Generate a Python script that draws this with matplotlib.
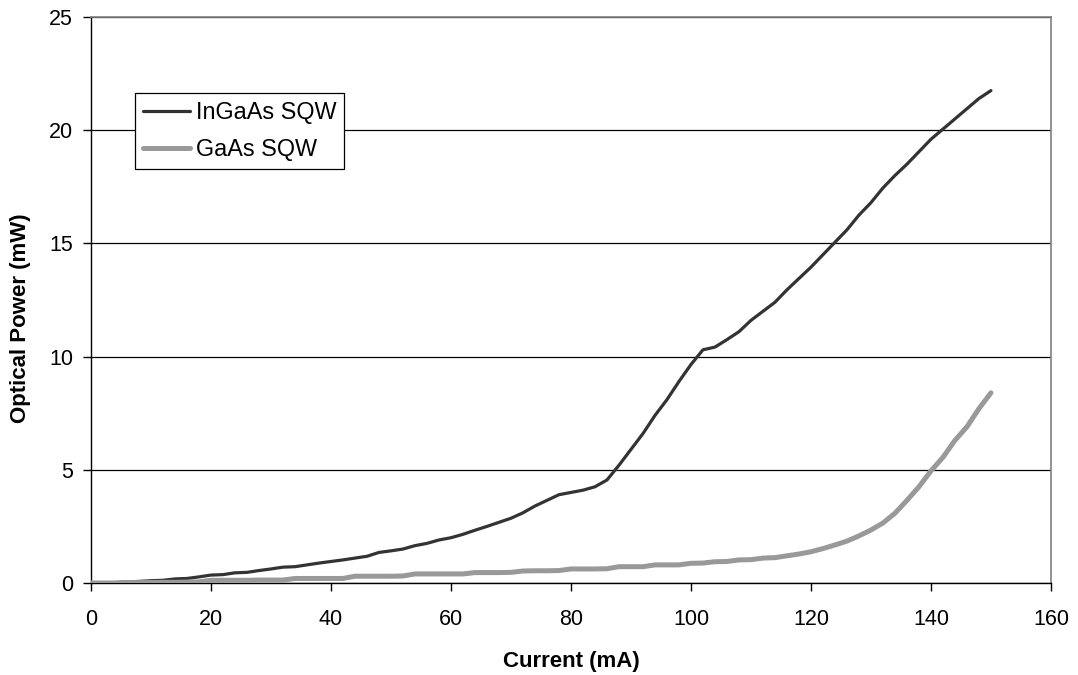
import matplotlib
matplotlib.use("Agg")
import matplotlib.pyplot as plt

plt.rcParams['font.family'] = ['Liberation Sans', 'DejaVu Sans']

# Drive current (mA)
current = [0, 2, 4, 6, 8, 10, 12, 14, 16, 18, 20, 22, 24, 26, 28, 30, 32, 34, 36, 38,
           40, 42, 44, 46, 48, 50, 52, 54, 56, 58, 60, 62, 64, 66, 68, 70, 72, 74, 76, 78,
           80, 82, 84, 86, 88, 90, 92, 94, 96, 98, 100, 102, 104, 106, 108, 110, 112, 114, 116, 118,
           120, 122, 124, 126, 128, 130, 132, 134, 136, 138, 140, 142, 144, 146, 148, 150]

# Optical output power (mW)
ingaas_sqw = [0.0, 0.0, 0.02, 0.05, 0.07, 0.1, 0.12, 0.18, 0.2, 0.27, 0.35, 0.37, 0.45, 0.47, 0.55, 0.62, 0.7, 0.72, 0.8, 0.88,
              0.95, 1.02, 1.1, 1.18, 1.35, 1.42, 1.5, 1.65, 1.75, 1.9, 2.0, 2.15, 2.33, 2.5, 2.68, 2.86, 3.1, 3.4, 3.65, 3.9,
              4.0, 4.1, 4.25, 4.55, 5.2, 5.9, 6.6, 7.4, 8.1, 8.9, 9.65, 10.3, 10.42, 10.75, 11.1, 11.6, 12.0, 12.4, 12.95, 13.45,
              13.95, 14.5, 15.05, 15.6, 16.25, 16.8, 17.45, 18.0, 18.5, 19.05, 19.6, 20.05, 20.5, 20.95, 21.4, 21.75]

gaas_sqw = [0.0, 0.0, 0.0, 0.02, 0.02, 0.02, 0.03, 0.03, 0.04, 0.05, 0.12, 0.12, 0.12, 0.12, 0.13, 0.13, 0.13, 0.2, 0.2, 0.2,
            0.2, 0.2, 0.3, 0.3, 0.3, 0.3, 0.31, 0.4, 0.4, 0.4, 0.4, 0.4, 0.46, 0.46, 0.46, 0.47, 0.53, 0.54, 0.54, 0.55,
            0.62, 0.62, 0.62, 0.63, 0.72, 0.72, 0.72, 0.8, 0.8, 0.8, 0.87, 0.88, 0.94, 0.95, 1.02, 1.03, 1.1, 1.12, 1.2, 1.28,
            1.38, 1.52, 1.68, 1.85, 2.08, 2.34, 2.65, 3.08, 3.65, 4.25, 4.95, 5.55, 6.3, 6.9, 7.7, 8.4]

series_labels = ['InGaAs SQW', 'GaAs SQW']
x_ticks = [0, 20, 40, 60, 80, 100, 120, 140, 160]
y_ticks = [0, 5, 10, 15, 20, 25]

fig = plt.figure(figsize=(10.78, 6.75), dpi=100)
ax = fig.add_axes([0.0844, 0.1363, 0.8905, 0.8385])

ax.plot(current, ingaas_sqw, color='#333333', lw=2.3, solid_capstyle='round',
        solid_joinstyle='round', label=series_labels[0], zorder=3)
ax.plot(current, gaas_sqw, color='#999999', lw=3.6, solid_capstyle='round',
        solid_joinstyle='round', label=series_labels[1], zorder=3)

ax.set_xlim(0, 160)
ax.set_ylim(0, 25)
ax.set_xticks(x_ticks)
ax.set_yticks(y_ticks)
ax.tick_params(axis='both', direction='out', length=6, width=1, labelsize=15.5, colors='black')
ax.tick_params(axis='x', pad=13)
ax.tick_params(axis='y', pad=7)

ax.yaxis.grid(True, color='black', lw=0.9)
ax.set_axisbelow(True)

for side in ('top', 'right'):
    ax.spines[side].set_color('#808080')
    ax.spines[side].set_linewidth(1.2)
for side in ('left', 'bottom'):
    ax.spines[side].set_color('black')
    ax.spines[side].set_linewidth(1.0)

ax.set_xlabel('Current (mA)', fontsize=16, fontweight='bold', labelpad=15)
ax.set_ylabel('Optical Power (mW)', fontsize=16, fontweight='bold')
ax.yaxis.set_label_coords(-0.062, 0.468)

leg = ax.legend(loc='upper left', bbox_to_anchor=(0.0458, 0.8657), borderaxespad=0,
                fontsize=16.8, frameon=True, fancybox=False, edgecolor='black',
                handlelength=2.0, handletextpad=0.25, labelspacing=0.6,
                borderpad=0.35)
leg.get_frame().set_linewidth(0.9)
leg.get_frame().set_facecolor('white')
leg.get_frame().set_alpha(1)

fig.savefig('out.png', dpi=100, facecolor='white')
